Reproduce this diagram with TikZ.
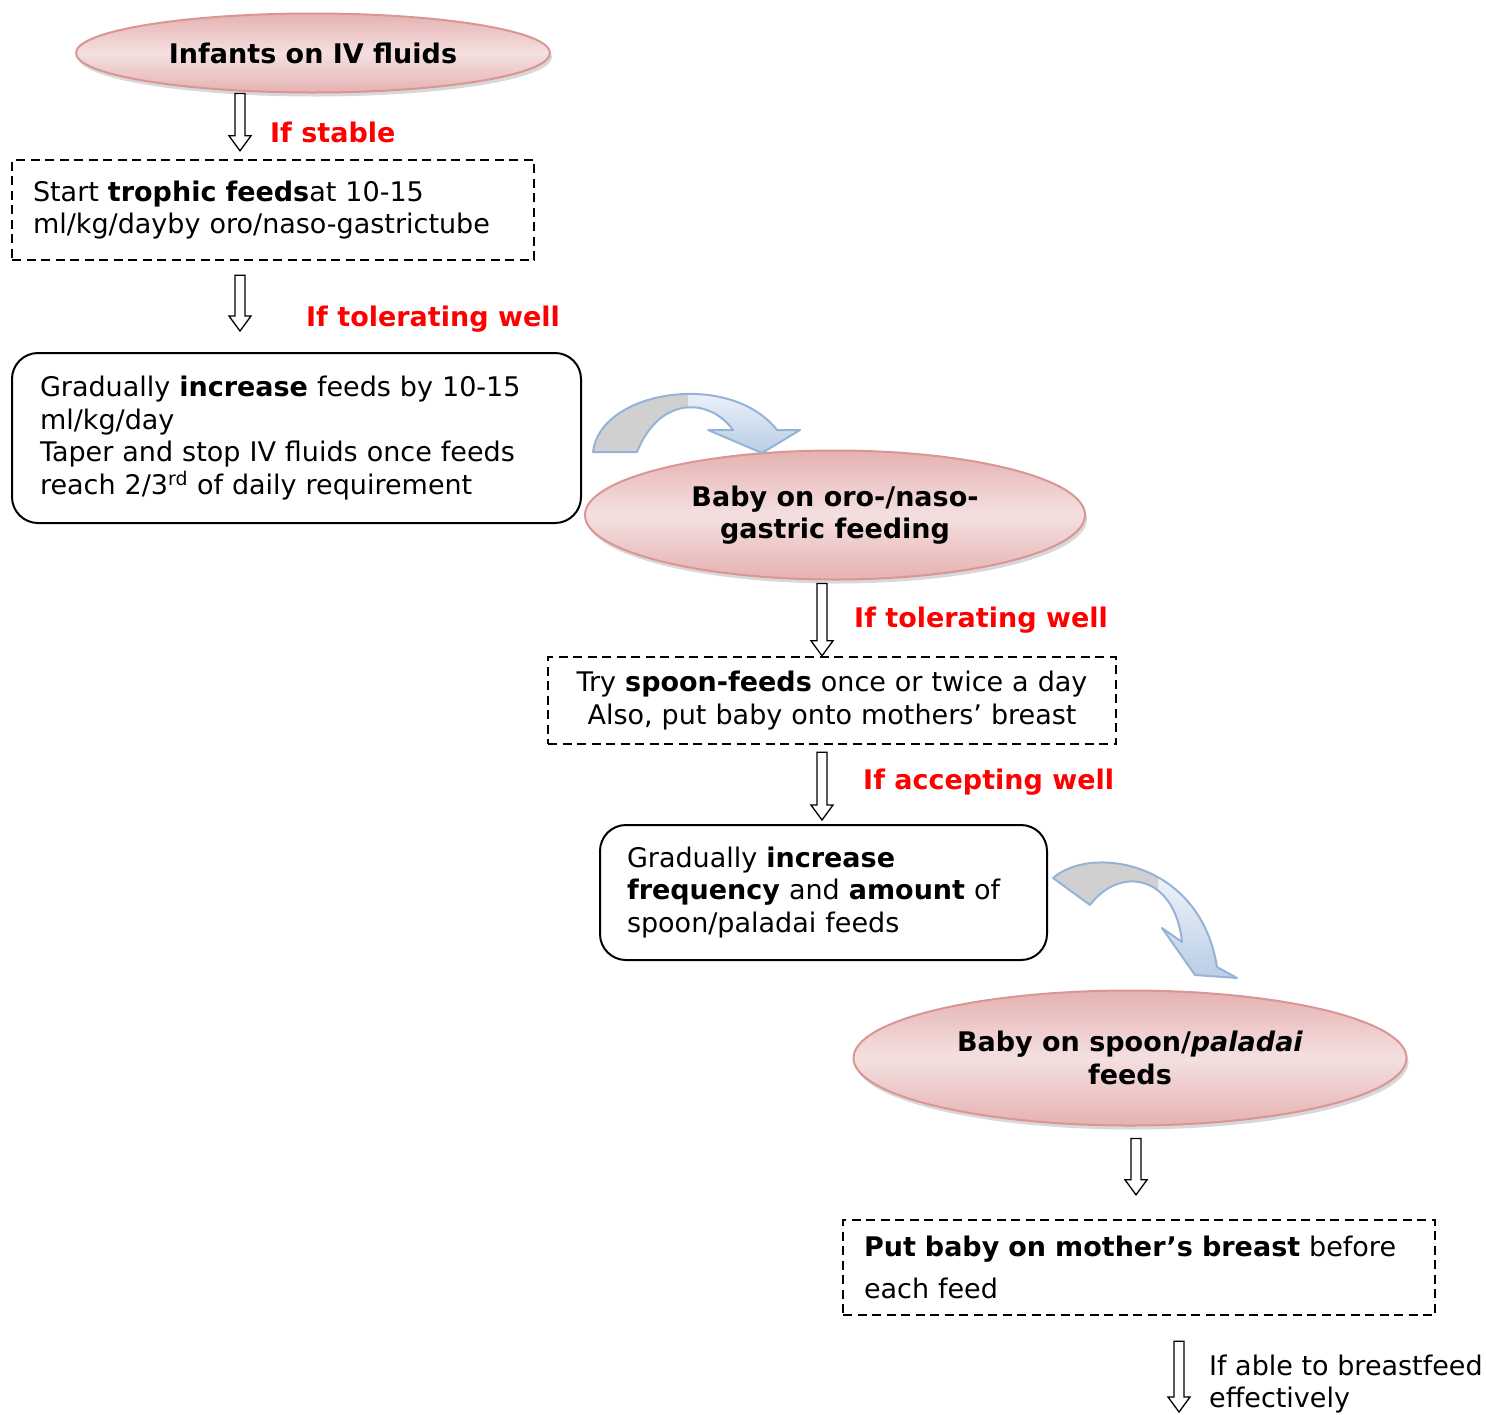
\documentclass[tikz,border=0pt]{standalone}
\usepackage{fontspec}
\setmainfont{DejaVu Sans}
\usetikzlibrary{shapes,shapes.geometric,shadows,calc}

\definecolor{rimred}{RGB}{217,150,148}
\definecolor{pinktop}{RGB}{229,178,177}
\definecolor{pinkmid}{RGB}{244,224,224}
\definecolor{bluerim}{RGB}{149,179,215}
\definecolor{bluefill}{RGB}{185,205,229}
\definecolor{greyfill}{RGB}{208,208,208}

\newcommand{\flowfont}{\fontsize{27}{32.5}\selectfont}

\tikzset{
  stage/.style={ellipse, draw=rimred, line width=2pt, top color=pinktop, bottom color=pinktop, middle color=pinkmid,
    drop shadow={shadow xshift=2pt, shadow yshift=-4pt, fill=black!30}, inner sep=0pt, align=center, font=\flowfont\bfseries},
  dashbox/.style={draw, line width=2.4pt, dash pattern=on 9pt off 5.5pt, inner ysep=0pt},
  roundbox/.style={draw, line width=2pt, rounded corners=26pt, inner ysep=0pt},
  cond/.style={text=red, font=\flowfont\bfseries, anchor=west, inner sep=0pt},
  hollow/.style={draw, line width=1.3pt, fill=white, line join=miter,
    to path={let \p1=(\tikztostart), \p2=(\tikztotarget) in
      (\x1-5pt,\y1) -- (\x1-5pt,\y2+15pt) -- (\x1-11pt,\y2+15pt) -- (\x1,\y2)
      -- (\x1+11pt,\y2+15pt) -- (\x1+5pt,\y2+15pt) -- (\x1+5pt,\y1) -- cycle}},
  bendfill/.style={top color=white, bottom color=bluefill},
  bendline/.style={draw=bluerim, line width=2pt, line join=round}
}

\begin{document}
\begin{tikzpicture}[x=1pt,y=-1pt,every node/.style={font=\flowfont}]
\useasboundingbox (0,0) rectangle (1486,1414);

\node[stage, minimum width=474pt, minimum height=79pt] (ivfluids) at (313,53) {Infants on IV fluids};
\node[dashbox, minimum height=100pt, text width=480pt, inner xsep=21pt, align=left] (trophic) at (273,210)
  {Start \textbf{trophic feeds}at 10-15\\ml/kg/dayby oro/naso-gastrictube};
\node[roundbox, minimum height=170pt, text width=513pt, inner xsep=28pt, align=left] (increase) at (296.5,438)
  {Gradually \textbf{increase} feeds by 10-15\\ml/kg/day\\Taper and stop IV fluids once feeds\\reach 2/3\textsuperscript{rd} of daily requirement};
\node[stage, minimum width=500pt, minimum height=129pt] (gastric) at (835,515) {Baby on oro-/naso-\\gastric feeding};
\node[dashbox, minimum height=87pt, text width=548pt, inner xsep=10pt, align=center] (spoon) at (832,700.5)
  {Try \textbf{spoon-feeds} once or twice a day\\Also, put baby onto mothers’ breast};
\node[roundbox, minimum height=135pt, text width=393pt, inner xsep=27pt, align=left] (frequency) at (823.5,892.5)
  {Gradually \textbf{increase}\\\textbf{frequency} and \textbf{amount} of\\spoon/paladai feeds};
\node[stage, minimum width=553pt, minimum height=135pt] (paladai) at (1130,1058) {Baby on spoon/\textit{paladai}\\feeds};
\node[dashbox, minimum height=95pt, text width=550pt, inner xsep=21pt, align=left, font=\fontsize{27}{42}\selectfont] (breast) at (1139,1267.5)
  {\textbf{Put baby on mother’s breast} before\\each feed};

\node[cond] (stable) at (270,132) {If stable};
\node[cond] (tolerate1) at (306,319) {If tolerating well};
\node[cond] (tolerate2) at (854,620) {If tolerating well};
\node[cond] (accept) at (863,782) {If accepting well};
\node[anchor=west, align=left, inner sep=0pt] (able) at (1209,1384) {If able to breastfeed\\effectively};

\coordinate (done) at (1179,1412);
\draw[hollow] ($(ivfluids.south)+(-73,0)$) to ($(trophic.north)+(0,-8)$);
\draw[hollow] ($(trophic.south)+(-33,14)$) to ($(increase.north)+(0,-21)$);
\draw[hollow] ($(gastric.south)+(-13,3)$) to (spoon.north);
\draw[hollow] ($(spoon.south)+(-10,7)$) to ($(frequency.north)+(0,-4)$);
\draw[hollow] ($(paladai.south)+(6,12)$) to ($(breast.north)+(0,-24)$);
\draw[hollow] ($(breast.south)+(40,25)$) to (done);

% bent arrows
\def\bendA{(593,452) .. controls (600,390) and (730,370) .. (777,430) -- (800,430) -- (762,453) -- (708,430) -- (733,430) .. controls (710,398) and (660,395) .. (637,452) -- cycle}
\def\bendB{(1053,878) .. controls (1090,845) and (1200,860) .. (1217,967) -- (1237,978) -- (1195,975) -- (1162,928) -- (1182,942) .. controls (1175,875) and (1120,865) .. (1090,905) -- cycle}
\shade[bendfill] \bendA;
\begin{scope}
  \clip (570,380) rectangle (688,470);
  \fill[greyfill] \bendA;
\end{scope}
\draw[bendline] \bendA;
\shade[bendfill] \bendB;
\begin{scope}
  \clip (1040,840) rectangle (1158,920);
  \fill[greyfill] \bendB;
\end{scope}
\draw[bendline] \bendB;
\end{tikzpicture}
\end{document}
